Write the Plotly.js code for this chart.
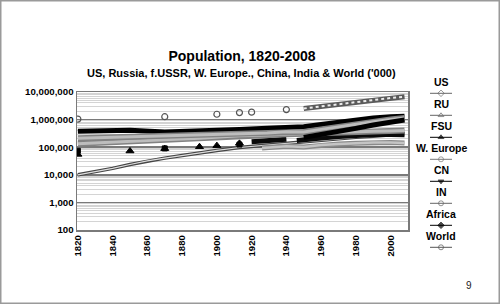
<!DOCTYPE html>
<html>
<head>
<meta charset="utf-8">
<script src="https://cdn.plot.ly/plotly-3.0.1.min.js"></script>
<style>
  html, body { margin: 0; padding: 0; background: #fff; }
  #chart { width: 500px; height: 304px; }
</style>
</head>
<body>
<div id="chart"></div>
<script>
// Population by region, 1820-2008, in thousands.

// United States
const usYears = [1820, 1830, 1840, 1850, 1860, 1870, 1880, 1890, 1900, 1913, 1920, 1930, 1940, 1950, 1960, 1970, 1980, 1990, 2000, 2008];
const usPop   = [9981, 12901, 17120, 23580, 31839, 40241, 50458, 63302, 76391, 97606, 106881, 123668, 132637, 152271, 180760, 205052, 227726, 250132, 282339, 304228];

// Russia
const ruYears = [1926, 1930, 1940, 1950, 1960, 1970, 1980, 1990, 2000, 2008];
const ruPop   = [93000, 97000, 108000, 102000, 119900, 130400, 139000, 148300, 146600, 141900];

// Former USSR: isolated benchmark years, then yearly series (war-time gap)
const fsuPtYears = [1820, 1850, 1870, 1890, 1900, 1913];
const fsuPtPop   = [54765, 73000, 88672, 104000, 114000, 138000];
const fsuYears = [1920, 1930, 1940, 1943, 1946, 1950, 1960, 1970, 1980, 1990, 2000, 2008];
const fsuPop   = [158000, 176000, 195000, null, 173900, 179571, 214335, 242478, 265973, 289045, 287000, 285000];

// Western Europe
const weYears = [1820, 1850, 1870, 1890, 1900, 1913, 1920, 1929, 1940, 1950, 1960, 1970, 1980, 1990, 2000, 2008];
const wePop   = [133040, 167000, 187504, 210000, 233645, 261007, 264000, 278000, 293000, 304940, 326000, 352000, 366000, 378000, 390000, 400000];

// China
const cnYears = [1820, 1850, 1870, 1890, 1900, 1913, 1929, 1938, 1950, 1960, 1970, 1980, 1990, 2000, 2008];
const cnPop   = [381000, 412000, 358000, 380000, 400000, 437140, 489000, 509000, 546815, 667070, 818315, 981235, 1135185, 1262645, 1324655];

// India
const inYears = [1820, 1850, 1870, 1900, 1913, 1929, 1940, 1950, 1960, 1970, 1980, 1990, 2000, 2008];
const inPop   = [209000, 235800, 253000, 284500, 303700, 330000, 362000, 359000, 442344, 554911, 688856, 838159, 1004124, 1149285];

// Africa: benchmark years, then yearly from 1950
const afPtYears = [1820, 1870, 1913];
const afPtPop   = [74208, 90466, 124697];
const afYears = [1950, 1960, 1970, 1980, 1990, 2000, 2008];
const afPop   = [227333, 285000, 366000, 482000, 638000, 810000, 973000];

// World: benchmark years, then yearly from 1950
const wdPtYears = [1820, 1870, 1900, 1913, 1920, 1940];
const wdPtPop   = [1041708, 1275732, 1563000, 1792925, 1863000, 2299000];
const wdYears = [1950, 1960, 1970, 1980, 1990, 2000, 2008];
const wdPop   = [2525779, 3033000, 3692000, 4435000, 5264000, 6071000, 6695000];

// Axis ticks
const yTickVals  = [100, 1000, 10000, 100000, 1000000, 10000000];
const yTickText  = ['100', '1,000', '10,000', '100,000', '1,000,000', '10,000,000'];
const xTickVals  = [1820, 1840, 1860, 1880, 1900, 1920, 1940, 1960, 1980, 2000];

// Legend entries
const legendNames = ['US', 'RU', 'FSU', 'W. Europe', 'CN', 'IN', 'Africa', 'World'];

// ---- drawing ----
const W = 500, H = 304;
const FONT = 'Liberation Sans, Arial, Helvetica, sans-serif';
const px = v => v / W;
const py = v => 1 - v / H;
const plotL = 77, plotR = 408, plotT = 92, plotB = 230;

const traces = [];

function line(x, y, color, width, dash) {
  traces.push({
    type: 'scatter', mode: 'lines', x: x, y: y,
    line: { color: color, width: width, dash: dash || 'solid' },
    connectgaps: false, hoverinfo: 'skip', showlegend: false
  });
}
function band(x, y, outer, outerW, inner, innerW, innerDash) {
  line(x, y, outer, outerW);
  line(x, y, inner, innerW, innerDash);
}
function points(x, y, symbol, color, size, lw) {
  traces.push({
    type: 'scatter', mode: 'markers', x: x, y: y,
    marker: { symbol: symbol, color: color, size: size, line: { color: color, width: lw || 1 } },
    hoverinfo: 'skip', showlegend: false
  });
}

band(usYears, usPop, '#454545', 3.5, '#dedede', 1.2);
band(ruYears, ruPop, '#8a8a8a', 5, '#c4c4c4', 2.5);
points(fsuPtYears, fsuPtPop, 'triangle-up', '#000', 7);
line(fsuYears, fsuPop, '#0a0a0a', 5);
band(weYears, wePop, '#828282', 6, '#bdbdbd', 3);
line(cnYears, cnPop, '#000', 5);
band(inYears, inPop, '#828282', 6, '#bdbdbd', 3);
points(afPtYears, afPtPop, 'square', '#000', 5);
line(afYears, afPop, '#000', 5);
points(wdPtYears, wdPtPop, 'circle-open', '#555', 6, 1.2);
band(wdYears, wdPop, '#5a5a5a', 5, '#ececec', 2, 'dot');

// legend samples: short line with a marker in the middle
const legendStyle = [
  { c: '#666', s: 'diamond-open' },
  { c: '#666', s: 'triangle-up-open' },
  { c: '#000', s: 'triangle-up' },
  { c: '#777', s: 'circle-open' },
  { c: '#000', s: 'triangle-down' },
  { c: '#666', s: 'circle-open' },
  { c: '#000', s: 'diamond' },
  { c: '#555', s: 'circle-open' }
];
legendNames.forEach((name, i) => {
  traces.push({
    type: 'scatter', mode: 'lines+markers', xaxis: 'x2', yaxis: 'y2',
    x: [0, 0.5, 1], y: [i, i, i],
    line: { color: legendStyle[i].c, width: 1 },
    marker: { symbol: legendStyle[i].s, size: [0, 5, 0], color: legendStyle[i].c, line: { color: legendStyle[i].c, width: 1 } },
    hoverinfo: 'skip', showlegend: false
  });
});

const annotations = [
  {
    text: "US, Russia, f.USSR, W. Europe., China, India & World ('000)",
    xref: 'paper', yref: 'paper', x: px(241.5), y: py(73), xanchor: 'center', yanchor: 'middle',
    showarrow: false, font: { family: FONT, size: 11, weight: 700, color: '#000' }
  },
  {
    text: '9', xref: 'paper', yref: 'paper', x: px(468.5), y: py(285), xanchor: 'center', yanchor: 'middle',
    showarrow: false, font: { family: FONT, size: 10, color: '#222' }
  }
];
legendNames.forEach((name, i) => {
  annotations.push({
    text: name, xref: 'paper', yref: 'y2', x: px(441), y: i - 0.5,
    xanchor: 'center', yanchor: 'middle', showarrow: false,
    font: { family: FONT, size: 10.5, weight: 700, color: '#000' }
  });
});

const layout = {
  width: W, height: H,
  margin: { l: 0, r: 0, t: 0, b: 0 },
  paper_bgcolor: '#fff', plot_bgcolor: '#fff',
  font: { family: FONT, color: '#000' },
  title: {
    text: 'Population, 1820-2008',
    font: { family: FONT, size: 14, weight: 700, color: '#000' },
    x: px(242), xanchor: 'center', xref: 'paper',
    y: py(56), yanchor: 'middle', yref: 'container'
  },
  xaxis: {
    domain: [px(plotL), px(plotR)],
    range: [1819.5, 2010],
    tickvals: xTickVals, tickangle: -90,
    tickfont: { family: FONT, size: 9.5, weight: 700, color: '#000' },
    showgrid: false, zeroline: false, ticks: '',
    showline: true, linecolor: '#7a7a7a', linewidth: 1.5, mirror: true
  },
  yaxis: {
    domain: [py(plotB), py(plotT)],
    type: 'log', range: [2, 7],
    tickvals: yTickVals, ticktext: yTickText,
    tickfont: { family: FONT, size: 9.7, weight: 700, color: '#000' },
    showgrid: true, gridcolor: '#7a7a7a', gridwidth: 1.5,
    minor: { dtick: 'D1', showgrid: true, gridcolor: '#d4d4d4', gridwidth: 1, ticks: '' },
    zeroline: false, ticks: '',
    showline: true, linecolor: '#7a7a7a', linewidth: 1.5, mirror: true
  },
  xaxis2: { domain: [px(430), px(452)], range: [0, 1], visible: false, anchor: 'y2' },
  yaxis2: { domain: [py(258.3), py(82.3)], range: [7.5, -0.5], visible: false, anchor: 'x2' },
  annotations: annotations,
  shapes: [{
    type: 'rect', xref: 'paper', yref: 'paper',
    x0: px(0.75), x1: px(W - 0.75), y0: py(H - 0.75), y1: py(0.75),
    line: { color: '#9a9a9a', width: 1.5 }
  }]
};

Plotly.newPlot('chart', traces, layout, { staticPlot: true, displayModeBar: false });
</script>
</body>
</html>
